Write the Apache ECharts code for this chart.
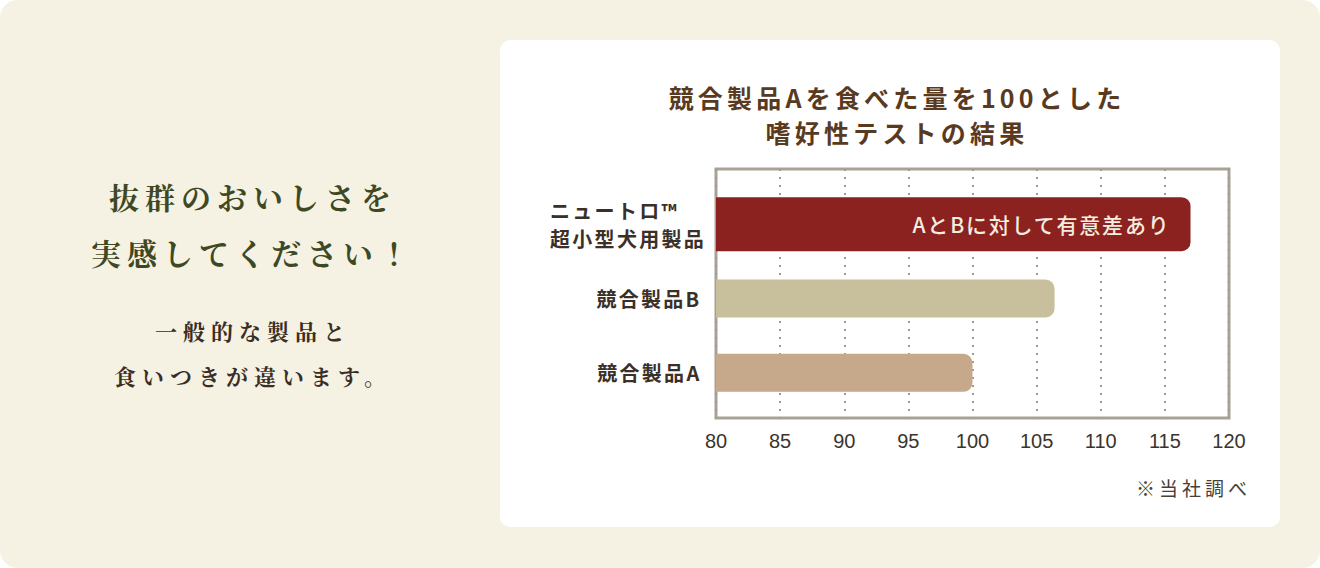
<!DOCTYPE html>
<html>
<head>
<meta charset="utf-8">
<script src="https://cdn.jsdelivr.net/npm/echarts@6/dist/echarts.min.js"></script>
<style>
  html, body { margin: 0; padding: 0; background: #ffffff; }
  #page { position: relative; width: 1320px; height: 568px; background: #F5F1E3; border-radius: 18px; overflow: hidden; }
  #panel { position: absolute; left: 500px; top: 40px; width: 780px; height: 487px; background: #ffffff; border-radius: 10px; }
  #lead { position: absolute; left: 0; top: 168px; width: 500px; text-align: center;
          font-family: "Noto Serif CJK JP", "Noto Sans CJK JP", serif; }
  #lead .h { font-size: 30px; line-height: 56px; letter-spacing: 6px; color: #3E4923; font-weight: 700; padding-left: 6px; }
  #lead .s { margin-top: 28px; font-size: 22px; line-height: 45px; letter-spacing: 6px; color: #3A2E24; font-weight: 700; padding-left: 6px; }
  #chart { position: absolute; left: 0; top: 0; width: 1320px; height: 568px; }
  #chart text[fill="#5A3A1E"] { letter-spacing: 4.2px; }
  #chart text[fill="#3A3028"] { letter-spacing: 2.3px; }
  #chart text[fill="#F4EDE0"] { letter-spacing: 1.8px; }
  #chart text[fill="#4A4038"] { letter-spacing: 4px; }
</style>
</head>
<body>
<div id="page">
  <div id="panel"></div>
  <div id="lead">
    <div class="h">抜群のおいしさを<br>実感してください！</div>
    <div class="s">一般的な製品と<br>食いつきが違います。</div>
  </div>
  <div id="chart"></div>
</div>
<script>
const titleText = "競合製品Aを食べた量を100とした\n嗜好性テストの結果";
const categories = ["ニュートロ™\n超小型犬用製品", "競合製品B", "競合製品A"];
const highlightValues = [117, "-", "-"];
const competitorValues = ["-", 106.4, 100];
const barLabel = "AとBに対して有意差あり";
const footnote = "※当社調べ";
const axisMin = 80, axisMax = 120, axisStep = 5;

const chart = echarts.init(document.getElementById('chart'), null, { renderer: 'svg' });
const font = '"Noto Sans CJK JP", "Noto Sans", sans-serif';

chart.setOption({
  backgroundColor: 'transparent',
  textStyle: { fontFamily: font },
  title: {
    text: titleText,
    left: 892,
    top: 74,
    textAlign: 'center',
    textStyle: { fontSize: 25, fontWeight: 'bold', color: '#5A3A1E', lineHeight: 35, fontFamily: font }
  },
  grid: [
    { left: 716, right: 91, top: 169, bottom: 150, show: true, borderColor: '#A8A396', borderWidth: 3, backgroundColor: 'transparent', z: 0 },
    { left: 716, right: 91, top: 187, bottom: 158 }
  ],
  xAxis: [
    {
      gridIndex: 0, type: 'value', min: axisMin, max: axisMax, interval: axisStep,
      axisLine: { show: false }, axisTick: { show: false },
      axisLabel: { color: '#3B342C', fontSize: 20, margin: 13, fontFamily: '"Liberation Sans", Arial, sans-serif' },
      splitLine: { show: true, lineStyle: { color: '#A09A8F', width: 2, type: [2, 6] } }
    },
    {
      gridIndex: 1, type: 'value', min: axisMin, max: axisMax, show: false
    }
  ],
  yAxis: [
    { gridIndex: 0, type: 'value', show: false },
    {
      gridIndex: 1, type: 'category', data: categories, inverse: true,
      axisLine: { show: false }, axisTick: { show: false },
      axisLabel: {
        margin: 26, align: 'right',
        formatter: function (v) {
          return v.split('\n').map(function (s) { return '{l|' + s + '}'; }).join('\n');
        },
        rich: { l: { align: 'left', color: '#3A3028', fontSize: 20, fontWeight: 'bold', lineHeight: 28, fontFamily: font } }
      }
    },
    {
      gridIndex: 1, type: 'category', data: categories, inverse: true, show: false
    }
  ],
  series: [
    {
      type: 'bar', xAxisIndex: 1, yAxisIndex: 1, data: highlightValues, barWidth: 54,
      itemStyle: { color: '#8B221F', borderRadius: [0, 9, 9, 0] },
      label: { show: true, position: 'insideRight', distance: 20, formatter: barLabel,
               color: '#F4EDE0', fontSize: 21, fontWeight: 500 },
      z: 3
    },
    {
      type: 'bar', xAxisIndex: 1, yAxisIndex: 2, data: competitorValues, barWidth: 38,
      itemStyle: {
        borderRadius: [0, 9, 9, 0],
        color: function (p) { return p.dataIndex === 1 ? '#C8C09D' : '#C6A88B'; }
      },
      z: 3
    }
  ],
  graphic: [
    { type: 'text', x: 1251, y: 487,
      style: { text: footnote, fontSize: 19, fill: '#4A4038', fontFamily: font, align: 'right', verticalAlign: 'middle' } }
  ]
});
</script>
</body>
</html>
